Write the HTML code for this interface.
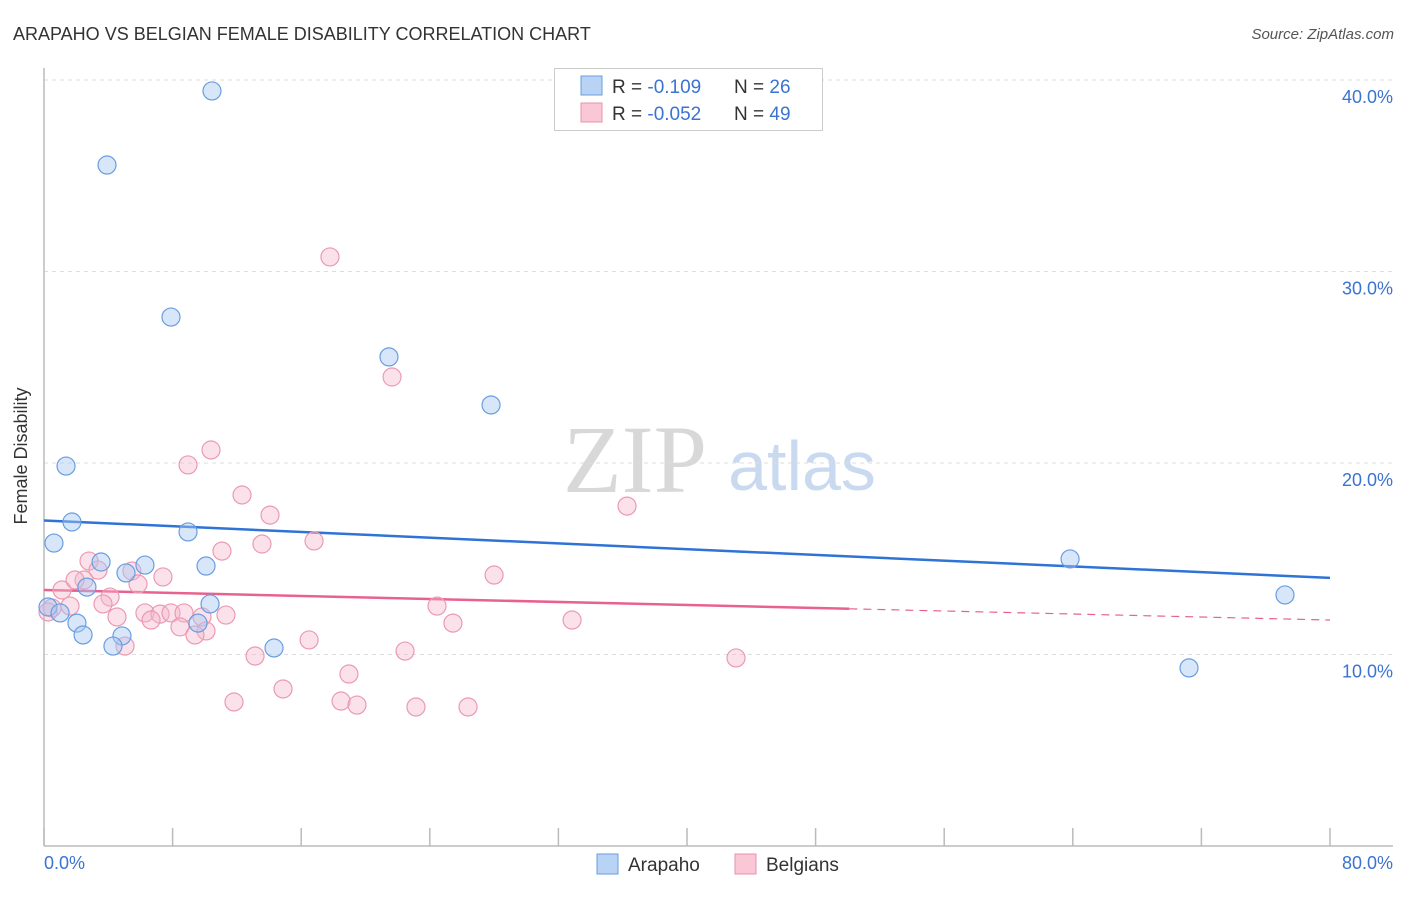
<!DOCTYPE html>
<html><head><meta charset="utf-8"><style>
body{margin:0;background:#fff;font-family:"Liberation Sans",sans-serif}
</style></head><body>
<svg width="1406" height="892" xmlns="http://www.w3.org/2000/svg" style="font-family:'Liberation Sans',sans-serif">
<text x="13" y="40" font-size="18" fill="#333">ARAPAHO VS BELGIAN FEMALE DISABILITY CORRELATION CHART</text>
<text x="1394" y="39" font-size="15" font-style="italic" fill="#555" text-anchor="end">Source: ZipAtlas.com</text>
<text x="635" y="492" font-size="96" font-family="'Liberation Serif',serif" fill="#d8d8d8" text-anchor="middle">ZIP</text>
<text x="802" y="490" font-size="70" fill="#c9daf0" text-anchor="middle">atlas</text>
<g id="grid"></g>
<line x1="44" y1="68" x2="44" y2="846" stroke="#bbb" stroke-width="1.5"/>
<line x1="44" y1="846" x2="1393" y2="846" stroke="#bbb" stroke-width="1.5"/>
<text x="27" y="456" font-size="18" fill="#333" text-anchor="middle" transform="rotate(-90 27 456)">Female Disability</text>
<text x="44" y="869" font-size="18" fill="#3b73d1">0.0%</text>
<text x="1393" y="869" font-size="18" fill="#3b73d1" text-anchor="end">80.0%</text>
<g id="lines"></g>
<g id="pts"></g>
<g>
<rect x="554.5" y="68.5" width="268" height="62" fill="#fff" stroke="#ccc"/>
<rect x="581" y="76" width="21" height="19" fill="#b9d3f5" stroke="#6a9de0"/>
<rect x="581" y="103" width="21" height="19" fill="#f9c7d6" stroke="#e890ab"/>
<text x="612" y="93" font-size="19" fill="#333">R = <tspan fill="#3b73d1">-0.109</tspan><tspan x="734">N = </tspan><tspan fill="#3b73d1">26</tspan></text>
<text x="612" y="120" font-size="19" fill="#333">R = <tspan fill="#3b73d1">-0.052</tspan><tspan x="734">N = </tspan><tspan fill="#3b73d1">49</tspan></text>
</g>
<g><rect x="597" y="854" width="21" height="20" fill="#b9d3f5" stroke="#6a9de0"/><text x="628" y="871" font-size="19" fill="#333">Arapaho</text></g>
<g><rect x="735" y="854" width="21" height="20" fill="#f9c7d6" stroke="#e890ab"/><text x="766" y="871" font-size="19" fill="#333">Belgians</text></g>
</svg>
<script>
const yTicks=[10,20,30,40];
const xTicks=[0,8,16,24,32,40,48,56,64,72,80];
const arapahoX=[10.45,3.92,7.9,21.46,27.81,1.37,1.74,8.96,0.62,3.55,6.28,10.08,5.10,2.67,0.25,1.0,10.33,2.05,9.58,2.43,4.85,4.29,14.31,63.83,77.2,71.23];
const arapahoY=[39.43,35.56,27.62,25.54,23.03,19.84,16.92,16.4,15.82,14.83,14.67,14.62,14.26,13.52,12.48,12.17,12.64,11.64,11.64,11.02,10.97,10.44,10.34,14.99,13.11,9.3];
const belgX=[17.79,21.65,10.39,8.96,12.32,36.27,14.06,16.8,13.56,11.07,2.8,3.36,5.47,2.49,1.12,1.93,7.4,5.85,28.0,4.11,3.67,1.62,0.5,0.25,6.28,7.22,7.9,8.71,11.32,4.54,6.66,9.83,24.45,25.44,32.85,8.46,10.08,9.39,16.49,5.04,22.46,13.13,43.05,18.97,14.87,11.82,18.48,19.47,23.14,26.38];
const belgY=[30.76,24.49,20.68,19.9,18.33,17.75,17.28,15.93,15.77,15.4,14.88,14.41,14.36,13.89,13.37,13.89,14.05,13.68,14.15,13.0,12.64,12.53,12.43,12.22,12.17,12.11,12.17,12.17,12.06,11.96,11.8,11.96,12.53,11.64,11.8,11.44,11.23,11.02,10.76,10.44,10.18,9.92,9.82,8.98,8.2,7.52,7.57,7.36,7.26,7.26];
const arapahoTrend=[17.0,14.0];
const belgTrend=[13.37,11.8];
const belgSolidEnd=50.1;
const NS="http://www.w3.org/2000/svg";
const sx=v=>44+v/80*1286, sy=v=>846-v*19.15;
function mk(t,a,p){const e=document.createElementNS(NS,t);for(const k in a)e.setAttribute(k,a[k]);document.getElementById(p).appendChild(e);return e;}
yTicks.forEach(t=>{
 const l=mk('line',{x1:44,x2:1393,y1:sy(t),y2:sy(t),stroke:'#ddd','stroke-dasharray':'4 4'},'grid');
 
 
 const tx=mk('text',{x:1393,y:sy(t)+23,'font-size':18,fill:'#3b73d1','text-anchor':'end'},'grid');
 tx.textContent=t.toFixed(1)+'%';
 
 
});
xTicks.forEach(t=>{
 const l=mk('line',{x1:sx(t),x2:sx(t),y1:828,y2:846,stroke:'#bbb','stroke-width':1.5},'grid');
 
 
});
function pts(X,Y,f,s,n){X.forEach((x,i)=>{const c=mk('circle',{cx:sx(x),cy:sy(Y[i]),r:9,fill:f,stroke:s,'stroke-width':1.2},'pts');
 
 });}
pts(belgX,belgY,'rgba(246,182,202,0.4)','#eb9ab3','belgians-point');
pts(arapahoX,arapahoY,'rgba(166,200,242,0.45)','#6a9de0','arapaho-point');
const bl=mk('line',{x1:sx(0),y1:sy(arapahoTrend[0]),x2:sx(80),y2:sy(arapahoTrend[1]),stroke:'#2f73d6','stroke-width':2.5},'lines');


const pe=belgTrend[0]+(belgTrend[1]-belgTrend[0])*belgSolidEnd/80;
const pl=mk('line',{x1:sx(0),y1:sy(belgTrend[0]),x2:sx(belgSolidEnd),y2:sy(pe),stroke:'#e8628e','stroke-width':2.5},'lines');


const pd=mk('line',{x1:sx(belgSolidEnd),y1:sy(pe),x2:sx(80),y2:sy(belgTrend[1]),stroke:'#e8628e','stroke-width':1.2,'stroke-dasharray':'8 6'},'lines');


</script>
</body></html>
